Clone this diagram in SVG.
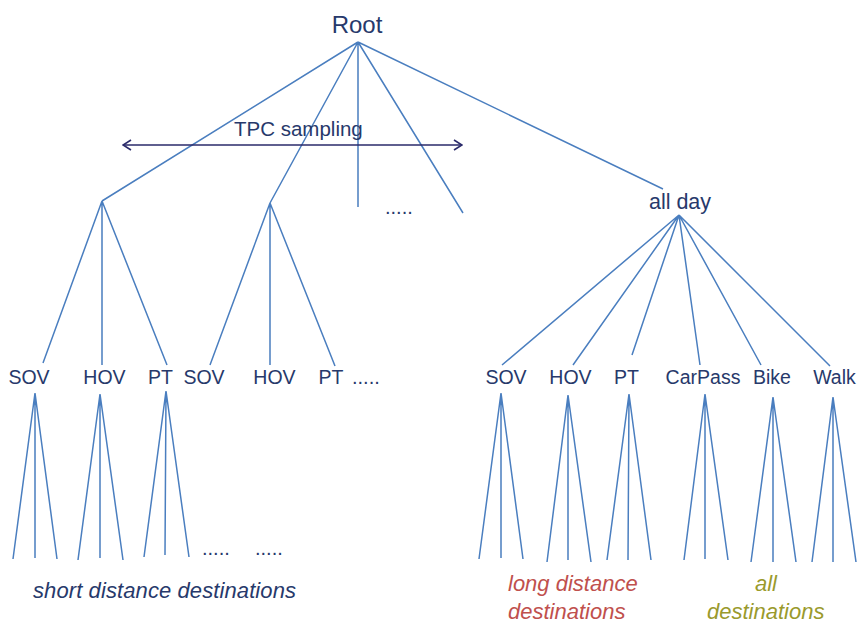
<svg xmlns="http://www.w3.org/2000/svg" width="859" height="624" viewBox="0 0 859 624">
  <defs>
    <marker id="chev" viewBox="0 0 10 12" refX="9" refY="6" markerWidth="10" markerHeight="12" markerUnits="userSpaceOnUse" orient="auto-start-reverse">
      <path d="M1,1 L9,6 L1,11" fill="none" stroke="#2A2A6A" stroke-width="1.6"/>
    </marker>
    <style>
      .t { font-family: "Liberation Sans", Arial, sans-serif; fill: #27396B; }
      .lbl { font-size: 19.5px; text-anchor: middle; }
      .dots { font-size: 20px; }
      .it { font-family: "Liberation Sans", Arial, sans-serif; font-style: italic; font-size: 22px; }
      .e { stroke: #4A7EBF; stroke-width: 1.5; fill: none; }
    </style>
  </defs>
  <rect width="859" height="624" fill="#FFFFFF"/>

  <g id="connectors" class="e">
    <!-- root -->
    <path d="M358,42 L102,201 M358,42 L270,203 M358,42 L358,207 M358,42 L463,213 M358,42 L663,189"/>
    <!-- left branch 1 -->
    <path d="M102,201 L43,363 M102,201 L102,365 M102,201 L167,365"/>
    <!-- left branch 2 -->
    <path d="M270,203 L210,365 M270,203 L270,365 M270,203 L335,366"/>
    <!-- all day -->
    <path d="M679,215 L502,365 M679,215 L573,365 M679,215 L632,355 M679,215 L700,365 M679,215 L761,365 M679,215 L830,366"/>
    <!-- left fans -->
    <path d="M35,393 L13,559 M35,393 L35,558 M35,393 L57,559"/>
    <path d="M100,394 L78,560 M100,394 L100,558 M100,394 L123,560"/>
    <path d="M166,391 L144,557 M166,391 L165,555 M166,391 L189,557"/>
    <!-- right fans -->
    <path d="M501,393 L479,559 M501,393 L501,558 M501,393 L523,559"/>
    <path d="M568,395 L547,562 M568,395 L568,560 M568,395 L591,562"/>
    <path d="M629,394 L607,560 M629,394 L628,560 M629,394 L651,560"/>
    <path d="M705,394 L684,560 M705,394 L705,559 M705,394 L728,560"/>
    <path d="M773,397 L751,562 M773,397 L773,562 M773,397 L796,562"/>
    <path d="M833,397 L812,562 M833,397 L833,562 M833,397 L856,562"/>
  </g>

  <g id="tpc-sampling">
    <line x1="123" y1="145" x2="462" y2="145" stroke="#2A2A6A" stroke-width="1.6" marker-start="url(#chev)" marker-end="url(#chev)"/>
    <text class="t" x="234" y="136" font-size="20.5">TPC sampling</text>
  </g>

  <g id="root"><text class="t" x="357" y="33" font-size="24" text-anchor="middle">Root</text></g>
  <g id="allday"><text class="t" x="680" y="209" font-size="21.5" text-anchor="middle">all day</text></g>
  <g id="dots-top"><text class="t dots" x="385" y="214">.....</text></g>

  <g id="l-sov1"><text class="t lbl" x="29" y="384">SOV</text></g>
  <g id="l-hov1"><text class="t lbl" x="104.5" y="384">HOV</text></g>
  <g id="l-pt1"><text class="t lbl" x="160.5" y="384">PT</text></g>
  <g id="l-sov2"><text class="t lbl" x="204" y="384">SOV</text></g>
  <g id="l-hov2"><text class="t lbl" x="274.5" y="384">HOV</text></g>
  <g id="l-pt2"><text class="t lbl" x="331" y="384">PT</text></g>
  <g id="l-dots"><text class="t dots" x="352" y="384">.....</text></g>

  <g id="r-sov"><text class="t lbl" x="506" y="384">SOV</text></g>
  <g id="r-hov"><text class="t lbl" x="570.5" y="384">HOV</text></g>
  <g id="r-pt"><text class="t lbl" x="626.5" y="384">PT</text></g>
  <g id="r-carpass"><text class="t lbl" x="703" y="384">CarPass</text></g>
  <g id="r-bike"><text class="t lbl" x="772" y="384">Bike</text></g>
  <g id="r-walk"><text class="t lbl" x="834.5" y="384">Walk</text></g>

  <g id="bottom-dots">
    <text class="t dots" x="202" y="555">.....</text>
    <text class="t dots" x="255" y="555">.....</text>
  </g>

  <g id="short-dest"><text class="it" x="33" y="598" fill="#27396B" textLength="263">short distance destinations</text></g>
  <g id="long-dest" fill="#C0504D">
    <text class="it" x="508" y="591">long distance</text>
    <text class="it" x="508" y="619">destinations</text>
  </g>
  <g id="all-dest" fill="#9A9A2C">
    <text class="it" x="755" y="591">all</text>
    <text class="it" x="707" y="619">destinations</text>
  </g>
</svg>
